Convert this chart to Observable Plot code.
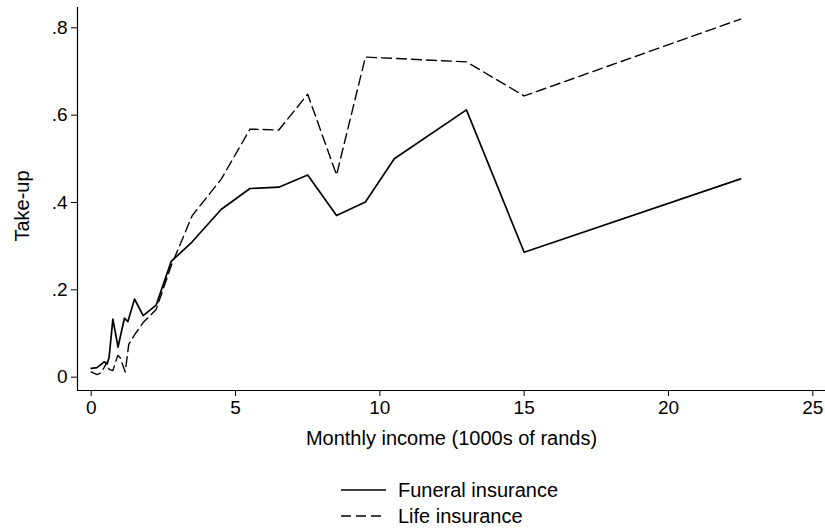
<!DOCTYPE html>
<html>
<head>
<meta charset="utf-8">
<script src="https://cdn.jsdelivr.net/npm/d3@7"></script>
<script src="https://cdn.jsdelivr.net/npm/@observablehq/plot@0.6"></script>
<style>
  html, body { margin: 0; padding: 0; background: #fff; }
  #wrap { position: relative; width: 825px; height: 528px; font-family: "Liberation Sans", Arial, sans-serif; }
  #legend { position: absolute; left: 0; top: 460px; width: 825px; height: 68px; }
  .row { position: absolute; left: 341px; height: 24px; display: flex; align-items: center; font-size: 20px; color: #000; }
  .row svg { margin-right: 12px; }
</style>
</head>
<body>
<div id="wrap"><div id="chart"></div><div id="legend"></div></div>
<script>
// Data
const funeralIncome = [0, 0.2, 0.45, 0.55, 0.62, 0.75, 0.93, 1.15, 1.27, 1.5, 1.8, 2.25, 2.77, 3.5, 4.5, 5.5, 6.5, 7.5, 8.5, 9.5, 10.5, 13, 15, 22.5];
const funeralTakeup = [0.02, 0.022, 0.035, 0.03, 0.045, 0.133, 0.069, 0.135, 0.127, 0.179, 0.141, 0.165, 0.265, 0.31, 0.384, 0.432, 0.435, 0.463, 0.37, 0.401, 0.5, 0.612, 0.286, 0.454];
const lifeIncome = [0, 0.2, 0.35, 0.55, 0.62, 0.75, 0.92, 1.0, 1.18, 1.3, 1.5, 1.8, 2.25, 2.77, 3.5, 4.5, 5.5, 6.5, 7.5, 8.5, 9.5, 13, 15, 22.5];
const lifeTakeup = [0.012, 0.006, 0.01, 0.035, 0.018, 0.015, 0.05, 0.045, 0.012, 0.075, 0.097, 0.125, 0.155, 0.255, 0.37, 0.453, 0.568, 0.566, 0.648, 0.463, 0.733, 0.722, 0.644, 0.82];
const seriesNames = ["Funeral insurance", "Life insurance"];
const xTicks = [0, 5, 10, 15, 20, 25];
const yTicks = [0, 0.2, 0.4, 0.6, 0.8];
const xTitle = "Monthly income (1000s of rands)";
const yTitle = "Take-up";

const funeral = funeralIncome.map((x, i) => ({x, y: funeralTakeup[i]}));
const life = lifeIncome.map((x, i) => ({x, y: lifeTakeup[i]}));

const xMin = -0.475, xMax = 25.44, yMin = -0.0305, yMax = 0.8465;
const font = "'Liberation Sans', Arial, sans-serif";

const chart = Plot.plot({
  width: 825,
  height: 460,
  marginLeft: 77,
  marginRight: 0,
  marginTop: 7,
  marginBottom: 70,
  style: {fontFamily: font, fontSize: "19px", color: "#000", background: "#fff"},
  x: {domain: [xMin, xMax]},
  y: {domain: [yMin, yMax]},
  marks: [
    Plot.ruleX([xMin], {stroke: "#000", strokeWidth: 1.2}),
    Plot.ruleY([yMin], {stroke: "#000", strokeWidth: 1.2}),
    Plot.axisY({ticks: yTicks, tickSize: 6, tickPadding: 4, fontSize: 19, label: null,
      tickFormat: d => d === 0 ? "0" : d3.format(".1f")(d).replace(/^0/, "")}),
    Plot.axisX({ticks: xTicks, tickSize: 6, tickPadding: 4, fontSize: 19, label: null}),
    Plot.text([xTitle], {frameAnchor: "bottom", dy: 48, lineAnchor: "middle", textAnchor: "middle", fontSize: 20, fill: "#000"}),
    Plot.text([yTitle], {frameAnchor: "left", dx: -55, dy: 7, rotate: -90, textAnchor: "middle", lineAnchor: "middle", fontSize: 20, fill: "#000"}),
    Plot.line(life, {x: "x", y: "y", stroke: "#000", strokeWidth: 1.4, strokeDasharray: "10,5"}),
    Plot.line(funeral, {x: "x", y: "y", stroke: "#000", strokeWidth: 1.7})
  ]
});
document.getElementById("chart").appendChild(chart);

// Legend below the chart
const legend = document.getElementById("legend");
const dashes = [null, "10,5"];
const tops = [18, 44];
seriesNames.forEach((name, i) => {
  const row = document.createElement("div");
  row.className = "row";
  row.style.top = tops[i] + "px";
  const dash = dashes[i] ? ` stroke-dasharray="${dashes[i]}"` : "";
  row.innerHTML = `<svg width="45" height="10"><line x1="0" y1="5" x2="45" y2="5" stroke="#000" stroke-width="${i ? 1.4 : 1.7}"${dash}/></svg><span>${name}</span>`;
  legend.appendChild(row);
});
</script>
</body>
</html>
